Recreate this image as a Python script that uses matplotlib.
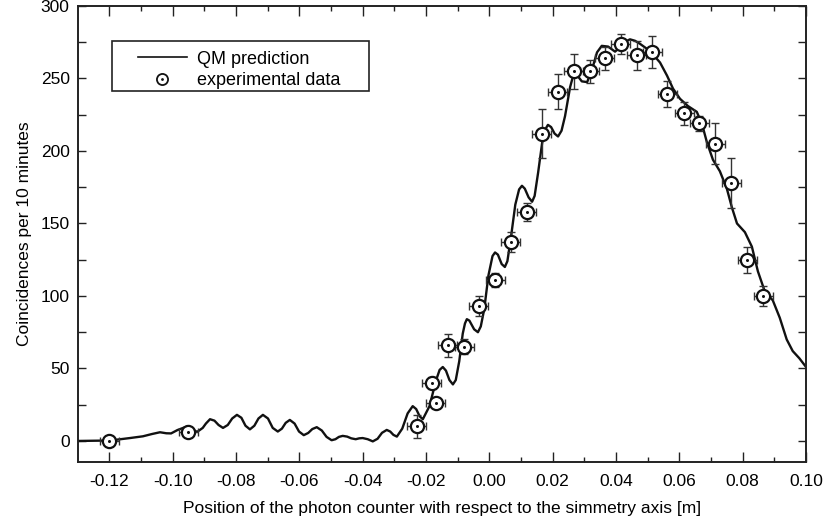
import matplotlib
matplotlib.use("Agg")
import matplotlib.pyplot as plt
from matplotlib.lines import Line2D
from matplotlib.patches import Rectangle
from matplotlib.legend_handler import HandlerTuple
from matplotlib.ticker import MultipleLocator, FormatStrFormatter

plt.rcParams['font.family'] = ['Liberation Sans', 'DejaVu Sans']

# QM prediction curve
qm_x = [-0.1299, -0.1198, -0.1135, -0.1094, -0.1065, -0.1040, -0.1020, -0.1005, -0.0985, -0.0955,
        -0.0940, -0.0923, -0.0905, -0.0895, -0.0882, -0.0868, -0.0855, -0.0841, -0.0826, -0.0812,
        -0.0797, -0.0783, -0.0770, -0.0756, -0.0742, -0.0729, -0.0715, -0.0699, -0.0684, -0.0668,
        -0.0655, -0.0643, -0.0630, -0.0615, -0.0601, -0.0586, -0.0572, -0.0559, -0.0545, -0.0529,
        -0.0514, -0.0498, -0.0486, -0.0475, -0.0463, -0.0449, -0.0436, -0.0422, -0.0411, -0.0400,
        -0.0384, -0.0368, -0.0353, -0.0339, -0.0324, -0.0313, -0.0303, -0.0292, -0.0275, -0.0258,
        -0.0242, -0.0231, -0.0220, -0.0210, -0.0189, -0.0168, -0.0157, -0.0147, -0.0137, -0.0126,
        -0.0115, -0.0106, -0.0095, -0.0084, -0.0077, -0.0071, -0.0063, -0.0048, -0.0036, -0.0027,
        -0.0016, -0.0003, 0.0010, 0.0018, 0.0027, 0.0039, 0.0049, 0.0057, 0.0068, 0.0082,
        0.0094, 0.0103, 0.0112, 0.0124, 0.0135, 0.0143, 0.0154, 0.0167, 0.0177, 0.0185,
        0.0195, 0.0206, 0.0217, 0.0228, 0.0239, 0.0255, 0.0266, 0.0278, 0.0292, 0.0309,
        0.0328, 0.0340, 0.0355, 0.0375, 0.0397, 0.0410, 0.0422, 0.0444, 0.0460, 0.0475,
        0.0507, 0.0539, 0.0561, 0.0580, 0.0602, 0.0627, 0.0655, 0.0671, 0.0687, 0.0706,
        0.0728, 0.0750, 0.0766, 0.0782, 0.0807, 0.0829, 0.0848, 0.0870, 0.0895, 0.0917,
        0.0939, 0.0958, 0.0979, 0.1000]
qm_y = [0.0, 0.3, 2.0, 3.2, 4.8, 6.0, 5.3, 5.2, 7.5, 10.0,
        8.5, 6.2, 9.0, 12.0, 15.0, 14.0, 11.0, 9.0, 11.0, 15.5,
        18.0, 16.0, 10.5, 8.0, 10.5, 15.5, 18.0, 15.5, 9.0, 6.5,
        8.5, 12.5, 14.5, 12.0, 6.5, 4.0, 5.5, 8.2, 9.5, 7.2,
        2.8, 0.5, 1.2, 2.8, 3.5, 3.0, 1.8, 1.2, 1.8, 2.0,
        1.2, -0.3, 1.5, 5.6, 7.6, 6.5, 4.2, 3.0, 8.5, 19.0,
        24.0, 22.0, 17.0, 15.0, 24.0, 42.0, 49.0, 51.0, 48.5, 42.0,
        39.0, 42.0, 55.0, 74.0, 81.0, 84.0, 83.0, 77.0, 75.0, 79.0,
        91.0, 114.0, 127.5, 130.0, 128.5, 122.0, 120.0, 124.0, 140.0, 163.0,
        173.5, 176.0, 174.0, 168.0, 165.0, 169.0, 185.0, 206.0, 215.0, 218.0,
        216.5, 212.0, 210.0, 214.0, 224.0, 244.0, 253.0, 252.0, 248.0, 247.5,
        259.0, 268.0, 272.5, 272.0, 268.5, 271.0, 274.5, 277.0, 276.0, 274.0,
        269.0, 261.0, 252.0, 243.0, 236.0, 231.0, 227.0, 219.0, 206.0, 194.0,
        186.0, 174.0, 161.0, 150.0, 144.0, 134.0, 117.0, 103.0, 97.0, 85.0,
        70.0, 62.0, 57.0, 51.0]

# experimental data
exp_x = [-0.120, -0.095, -0.0229, -0.0182, -0.0170, -0.0132, -0.0080, -0.0033, 0.0018, 0.0068,
         0.0118, 0.0165, 0.0216, 0.0266, 0.0317, 0.0364, 0.0415, 0.0465, 0.0514, 0.0562,
         0.0616, 0.0663, 0.0714, 0.0764, 0.0815, 0.0865]
exp_y = [0, 6, 10, 40, 26, 66, 65, 93, 111, 137,
         158, 212, 241, 255, 255, 264, 274, 266, 268, 239,
         226, 219, 205, 178, 125, 100]
exp_yerr = [3, 3, 8, 4, 3, 8, 5, 7, 5, 7,
            6, 17, 12, 12, 8, 8, 7, 10, 11, 9,
            8, 5, 14, 17, 9, 7]
exp_xerr = 0.003

x_ticks = [-0.12, -0.10, -0.08, -0.06, -0.04, -0.02, 0.00, 0.02, 0.04, 0.06, 0.08, 0.10]
y_ticks = [0, 50, 100, 150, 200, 250, 300]

fig = plt.figure(figsize=(8.25, 5.29), dpi=100)
ax = fig.add_axes([0.0945, 0.1267, 0.8825, 0.862])

ax.plot(qm_x, qm_y, color='#111111', lw=1.7, solid_joinstyle='round', zorder=2)
ax.errorbar(exp_x, exp_y, yerr=exp_yerr, xerr=exp_xerr, fmt='none', ecolor='#333333',
            elinewidth=1.0, capsize=3.2, capthick=1.0, zorder=3)
ax.plot(exp_x, exp_y, linestyle='none', marker='o', markersize=9.5, markerfacecolor='white',
        markeredgecolor='#111111', markeredgewidth=1.6, zorder=4)
ax.plot(exp_x, exp_y, linestyle='none', marker='o', markersize=2.2, markerfacecolor='#111111',
        markeredgecolor='#111111', markeredgewidth=0, zorder=5)

ax.set_xlim(-0.1299, 0.1)
ax.set_ylim(-14.5, 300)
ax.set_xticks(x_ticks)
ax.set_yticks(y_ticks)
ax.xaxis.set_major_formatter(FormatStrFormatter('%.2f'))
ax.xaxis.set_minor_locator(MultipleLocator(0.01))
ax.yaxis.set_minor_locator(MultipleLocator(25))
ax.tick_params(axis='both', which='both', direction='in', top=True, right=True,
               labelsize=12.5, color='#222222')
ax.tick_params(axis='x', which='major', length=7, width=1.0, pad=9)
ax.tick_params(axis='x', which='minor', length=3.5, width=1.0)
ax.tick_params(axis='y', which='major', length=6, width=1.0, pad=6)
ax.tick_params(axis='y', which='minor', length=6, width=1.0)
for s in ax.spines.values():
    s.set_linewidth(1.4)
    s.set_color('#222222')

ax.set_xlabel('Position of the photon counter with respect to the simmetry axis [m]',
              fontsize=12.5, labelpad=8)
ax.set_ylabel('Coincidences per 10 minutes', fontsize=12.5, labelpad=6)

# legend frame
ax.add_patch(Rectangle((0.0467, 0.8143), 0.353, 0.1097, transform=ax.transAxes,
                       facecolor='white', edgecolor='#222222', linewidth=1.2, zorder=6))

h_line = Line2D([], [], color='#111111', lw=1.2)
h_ring = Line2D([], [], linestyle='none', marker='o', markersize=8, markerfacecolor='white',
                markeredgecolor='#111111', markeredgewidth=1.3)
h_dot = Line2D([], [], linestyle='none', marker='o', markersize=2.0, markerfacecolor='#111111',
               markeredgewidth=0)
leg = ax.legend([h_line, (h_ring, h_dot)], ['QM prediction', 'experimental data'],
                handler_map={tuple: HandlerTuple(ndivide=1, pad=0)},
                loc='upper left', bbox_to_anchor=(0.0824, 0.902), fontsize=13,
                frameon=False, handlelength=2.7, handletextpad=0.55,
                borderpad=0, labelspacing=0.25, borderaxespad=0)
leg.set_zorder(7)

fig.savefig('out.png', dpi=100)
